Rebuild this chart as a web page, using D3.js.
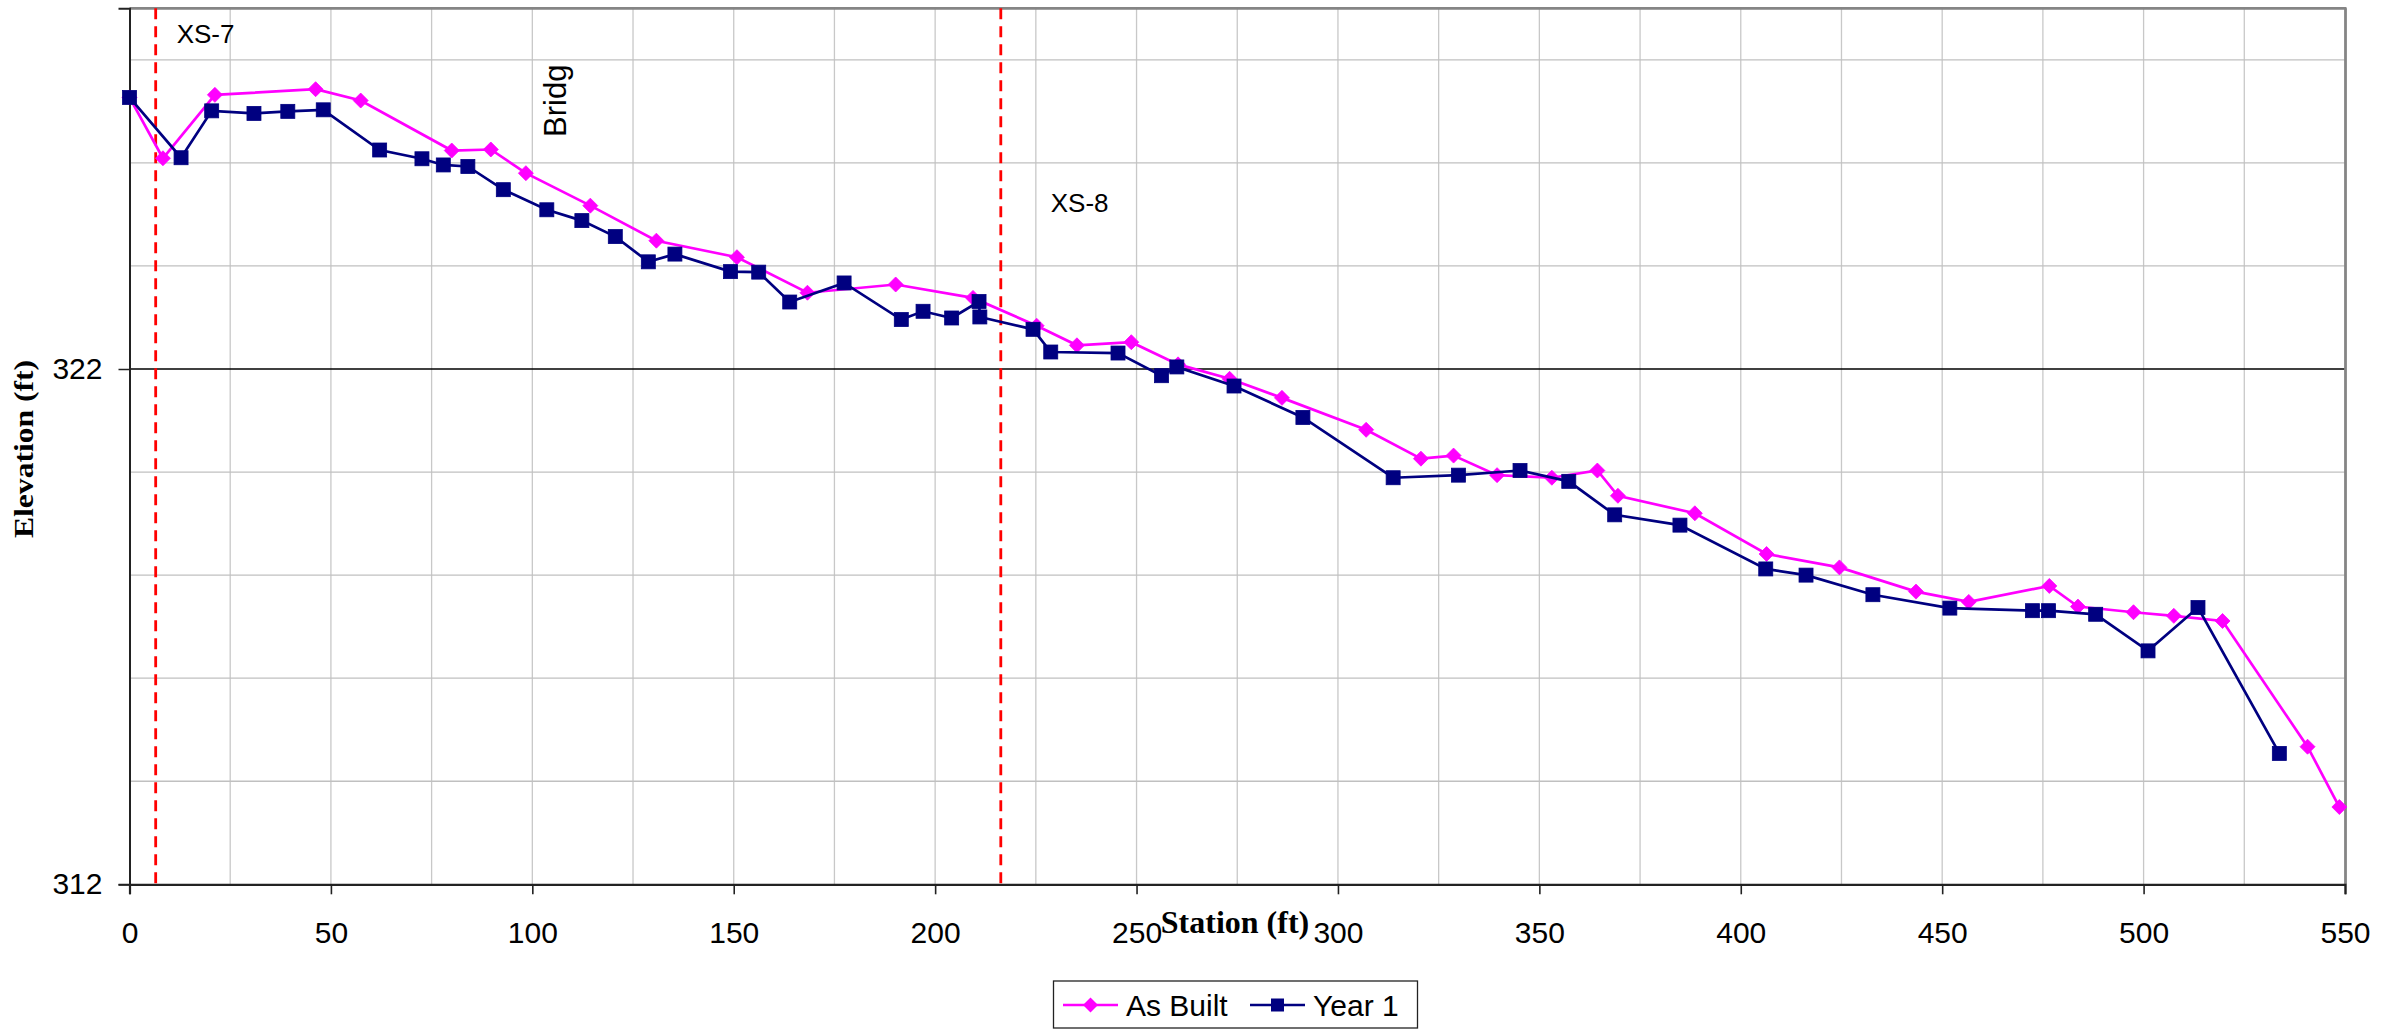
<!DOCTYPE html>
<html>
<head>
<meta charset="utf-8">
<script src="https://cdn.jsdelivr.net/npm/d3@7"></script>
<style>
  html, body { margin: 0; padding: 0; background: #ffffff; }
  svg { display: block; }
</style>
</head>
<body>
<svg id="chart" width="2408" height="1030"></svg>
<script>
// ---------------- data ----------------
const seriesNames = ["As Built", "Year 1"];
const asBuiltStation = [0, 8.3, 21.2, 46.2, 57.4, 80.0, 89.7, 98.4, 114.4, 130.8, 150.8, 168.3, 190.2, 209.4, 225.2, 235.2, 248.7, 260.3, 273.1, 286.1, 307.0, 320.6, 328.7, 339.5, 353.1, 364.4, 369.5, 388.6, 406.4, 424.5, 443.5, 456.6, 476.6, 483.7, 497.5, 507.5, 519.6, 540.7, 548.6];
const asBuiltElev = [327.27, 326.09, 327.32, 327.43, 327.21, 326.24, 326.26, 325.80, 325.17, 324.49, 324.17, 323.48, 323.64, 323.38, 322.84, 322.46, 322.52, 322.09, 321.81, 321.44, 320.82, 320.26, 320.32, 319.94, 319.89, 320.03, 319.54, 319.20, 318.41, 318.15, 317.68, 317.48, 317.79, 317.39, 317.28, 317.21, 317.11, 314.67, 313.50];
const year1Station = [0, 12.8, 20.4, 30.9, 39.3, 48.1, 62.1, 72.6, 77.9, 84.0, 92.8, 103.6, 112.3, 120.6, 128.8, 135.4, 149.2, 156.2, 163.9, 177.4, 191.6, 197.0, 204.1, 210.9, 211.1, 224.3, 228.7, 245.4, 256.2, 260.0, 274.2, 291.3, 313.7, 329.9, 345.2, 357.3, 368.7, 384.9, 406.2, 416.2, 432.8, 451.9, 472.4, 476.4, 488.1, 501.1, 513.5, 533.7];
const year1Elev = [327.27, 326.10, 327.01, 326.96, 327.00, 327.03, 326.25, 326.08, 325.96, 325.93, 325.48, 325.09, 324.88, 324.57, 324.08, 324.23, 323.89, 323.88, 323.30, 323.67, 322.96, 323.12, 322.99, 323.31, 323.01, 322.77, 322.33, 322.31, 321.87, 322.04, 321.67, 321.06, 319.89, 319.94, 320.03, 319.82, 319.17, 318.97, 318.12, 318.00, 317.62, 317.36, 317.31, 317.31, 317.24, 316.53, 317.37, 314.54];
const xTickValues = [0, 50, 100, 150, 200, 250, 300, 350, 400, 450, 500, 550];
const yTickValues = [312, 322];
const xGridValues = d3.range(0, 551, 25);
const yGridValues = d3.range(312, 329, 2);
const xsLines = [{ name: "XS-7", station: 6.5 }, { name: "XS-8", station: 216.3 }];
const bridgeLabel = { name: "Bridg", station: 106 };

// ---------------- layout ----------------
const W = 2408, H = 1030;
const plot = { left: 129.5, right: 2345, top: 8.3, bottom: 884.3 };
const x = d3.scaleLinear().domain([0, 550]).range([plot.left, plot.right]);
const y = d3.scaleLinear().domain([312, 329]).range([plot.bottom, plot.top]);

const svg = d3.select("#chart");
svg.append("rect").attr("width", W).attr("height", H).attr("fill", "#fff");

const sans = "'Liberation Sans', Arial, sans-serif";
const serif = "'Liberation Serif', 'Times New Roman', serif";

// gridlines
const grid = svg.append("g");
grid.selectAll("line.vg").data(xGridValues.filter(v => v > 0 && v < 550)).join("line")
  .attr("x1", d => x(d)).attr("x2", d => x(d))
  .attr("y1", plot.top).attr("y2", plot.bottom)
  .attr("stroke", "#c8c8c8").attr("stroke-width", 1.3);
grid.selectAll("line.hg").data(yGridValues.filter(v => v > 312 && v !== 322)).join("line")
  .attr("x1", plot.left).attr("x2", plot.right)
  .attr("y1", d => y(d)).attr("y2", d => y(d))
  .attr("stroke", "#c0c0c0").attr("stroke-width", 1.3);
// major gridline
grid.selectAll("line.mg").data(yTickValues.filter(v => v > 312)).join("line")
  .attr("x1", plot.left).attr("x2", plot.right)
  .attr("y1", d => y(d)).attr("y2", d => y(d))
  .attr("stroke", "#000").attr("stroke-width", 1.3);

// plot border top/right
svg.append("line").attr("x1", plot.left).attr("x2", plot.right + 1.5)
  .attr("y1", plot.top).attr("y2", plot.top).attr("stroke", "#858585").attr("stroke-width", 2.8);
svg.append("line").attr("x1", plot.right + 0.5).attr("x2", plot.right + 0.5)
  .attr("y1", plot.top).attr("y2", plot.bottom).attr("stroke", "#858585").attr("stroke-width", 2.8);

// axes
const xAxis = d3.axisBottom(x).tickValues(xTickValues).tickSize(10).tickPadding(27).tickFormat(d3.format("d"));
const gx = svg.append("g").attr("transform", `translate(0,${plot.bottom})`).call(xAxis);
gx.select(".domain").attr("stroke", "#222").attr("stroke-width", 2.2);
gx.selectAll(".tick line").attr("stroke", "#222").attr("stroke-width", 1.6);
gx.selectAll(".tick text").attr("font-family", sans).attr("font-size", 30).attr("fill", "#000");

const yAxis = d3.axisLeft(y).tickValues(yTickValues).tickSize(11).tickPadding(16).tickFormat(d3.format("d"));
const gy = svg.append("g").attr("transform", `translate(${plot.left},0)`).call(yAxis);
gy.select(".domain").attr("stroke", "#222").attr("stroke-width", 2);
gy.selectAll(".tick line").attr("stroke", "#222").attr("stroke-width", 1.5);
gy.selectAll(".tick text").attr("font-family", sans).attr("font-size", 30).attr("fill", "#000");

// cross-section dashed lines
xsLines.forEach((c, i) => {
  svg.append("line").attr("x1", x(c.station)).attr("x2", x(c.station))
    .attr("y1", plot.top).attr("y2", plot.bottom + 5)
    .attr("stroke", "#ff0000").attr("stroke-width", 2.8).attr("stroke-dasharray", "11,7");
});
svg.append("text").attr("x", x(xsLines[0].station) + 21).attr("y", 43)
  .attr("font-family", sans).attr("font-size", 26).text(xsLines[0].name);
svg.append("text").attr("x", x(xsLines[1].station) + 50).attr("y", 212)
  .attr("font-family", sans).attr("font-size", 26).text(xsLines[1].name);
svg.append("text")
  .attr("transform", `translate(${x(bridgeLabel.station) + 10},137) rotate(-90)`)
  .attr("font-family", sans).attr("font-size", 31).text(bridgeLabel.name);

// series
const asBuilt = asBuiltStation.map((s, i) => [s, asBuiltElev[i]]);
const year1 = year1Station.map((s, i) => [s, year1Elev[i]]);
const line = d3.line().x(d => x(d[0])).y(d => y(d[1]));
const diamond = "M0,-7.5L7.5,0L0,7.5L-7.5,0Z";

svg.append("path").datum(asBuilt).attr("d", line)
  .attr("fill", "none").attr("stroke", "#ff00ff").attr("stroke-width", 2.7);
svg.append("g").selectAll("path").data(asBuilt).join("path")
  .attr("d", diamond).attr("transform", d => `translate(${x(d[0])},${y(d[1])})`)
  .attr("fill", "#ff00ff").attr("stroke", "#ff00ff").attr("stroke-width", 0.8);

svg.append("path").datum(year1).attr("d", line)
  .attr("fill", "none").attr("stroke", "#000080").attr("stroke-width", 2.7);
svg.append("g").selectAll("rect").data(year1).join("rect")
  .attr("x", d => x(d[0]) - 7).attr("y", d => y(d[1]) - 7)
  .attr("width", 14).attr("height", 14)
  .attr("fill", "#000080").attr("stroke", "#000080").attr("stroke-width", 0.8);

// axis titles
svg.append("text").attr("x", 1235).attr("y", 933).attr("text-anchor", "middle")
  .attr("font-family", serif).attr("font-weight", "bold").attr("font-size", 32).text("Station (ft)");
svg.append("text")
  .attr("transform", `translate(33,538) rotate(-90)`)
  .attr("font-family", serif).attr("font-weight", "bold").attr("font-size", 27)
  .attr("textLength", 178).attr("lengthAdjust", "spacingAndGlyphs")
  .text("Elevation (ft)");

// legend
const lg = svg.append("g");
lg.append("rect").attr("x", 1053.5).attr("y", 981).attr("width", 364).attr("height", 47)
  .attr("fill", "#fff").attr("stroke", "#222").attr("stroke-width", 1.3);
const legItems = [
  { name: seriesNames[0], color: "#ff00ff", shape: "diamond", x0: 1063 },
  { name: seriesNames[1], color: "#000080", shape: "square", x0: 1250 }
];
legItems.forEach(it => {
  lg.append("line").attr("x1", it.x0).attr("x2", it.x0 + 55).attr("y1", 1005).attr("y2", 1005)
    .attr("stroke", it.color).attr("stroke-width", 2.7);
  if (it.shape === "diamond") {
    lg.append("path").attr("d", diamond).attr("transform", `translate(${it.x0 + 27.5},1005)`)
      .attr("fill", it.color);
  } else {
    lg.append("rect").attr("x", it.x0 + 27.5 - 6.5).attr("y", 1005 - 6.5).attr("width", 13).attr("height", 13)
      .attr("fill", it.color);
  }
  lg.append("text").attr("x", it.x0 + 63).attr("y", 1016)
    .attr("font-family", sans).attr("font-size", 30).text(it.name);
});
</script>
</body>
</html>
